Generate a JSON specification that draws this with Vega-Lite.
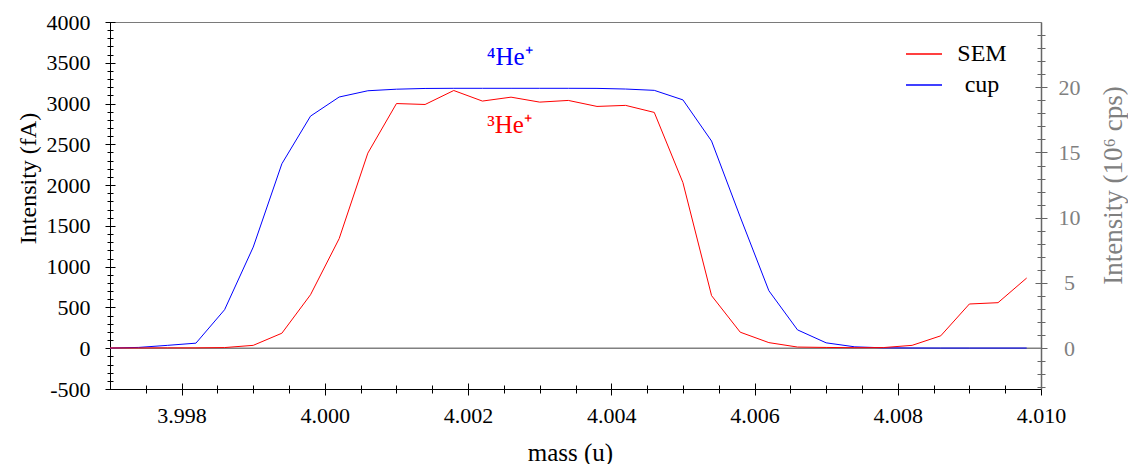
{
  "$schema": "https://vega.github.io/schema/vega-lite/v6.json",
  "width": 931,
  "height": 367,
  "autosize": "none",
  "padding": {"left": 110, "top": 22, "right": 87, "bottom": 75},
  "background": "white",
  "config": {
    "view": {"stroke": "#7a7a7a", "strokeWidth": 1},
    "font": "Liberation Serif",
    "axis": {
      "grid": false,
      "labelFont": "Liberation Serif",
      "titleFont": "Liberation Serif",
      "labelFontSize": 22,
      "titleFontSize": 24,
      "titleFontWeight": "normal",
      "labelColor": "black",
      "titleColor": "black",
      "tickColor": "black",
      "domainColor": "black",
      "labelOverlap": false,
      "labelFlush": false
    }
  },
  "datasets": {
    "scan": [
      {"mass": 3.9970, "series": "cup", "intensity": 2},
      {"mass": 3.9974, "series": "cup", "intensity": 10},
      {"mass": 3.9978, "series": "cup", "intensity": 35},
      {"mass": 3.9982, "series": "cup", "intensity": 62},
      {"mass": 3.9986, "series": "cup", "intensity": 472},
      {"mass": 3.9990, "series": "cup", "intensity": 1240},
      {"mass": 3.9994, "series": "cup", "intensity": 2262},
      {"mass": 3.9998, "series": "cup", "intensity": 2846},
      {"mass": 4.0002, "series": "cup", "intensity": 3080},
      {"mass": 4.0006, "series": "cup", "intensity": 3157},
      {"mass": 4.0010, "series": "cup", "intensity": 3176},
      {"mass": 4.0014, "series": "cup", "intensity": 3185},
      {"mass": 4.0018, "series": "cup", "intensity": 3187},
      {"mass": 4.0022, "series": "cup", "intensity": 3187},
      {"mass": 4.0026, "series": "cup", "intensity": 3187},
      {"mass": 4.0030, "series": "cup", "intensity": 3187},
      {"mass": 4.0034, "series": "cup", "intensity": 3187},
      {"mass": 4.0038, "series": "cup", "intensity": 3186},
      {"mass": 4.0042, "series": "cup", "intensity": 3178},
      {"mass": 4.0046, "series": "cup", "intensity": 3162},
      {"mass": 4.0050, "series": "cup", "intensity": 3045},
      {"mass": 4.0054, "series": "cup", "intensity": 2540},
      {"mass": 4.0058, "series": "cup", "intensity": 1610},
      {"mass": 4.0062, "series": "cup", "intensity": 705},
      {"mass": 4.0066, "series": "cup", "intensity": 225},
      {"mass": 4.0070, "series": "cup", "intensity": 66},
      {"mass": 4.0074, "series": "cup", "intensity": 17},
      {"mass": 4.0078, "series": "cup", "intensity": 5},
      {"mass": 4.0082, "series": "cup", "intensity": 3},
      {"mass": 4.0086, "series": "cup", "intensity": 2},
      {"mass": 4.0090, "series": "cup", "intensity": 2},
      {"mass": 4.0094, "series": "cup", "intensity": 2},
      {"mass": 4.0098, "series": "cup", "intensity": 2},
      {"mass": 3.9970, "series": "SEM", "intensity": 0.02},
      {"mass": 3.9974, "series": "SEM", "intensity": 0.02},
      {"mass": 3.9978, "series": "SEM", "intensity": 0.03},
      {"mass": 3.9982, "series": "SEM", "intensity": 0.03},
      {"mass": 3.9986, "series": "SEM", "intensity": 0.05},
      {"mass": 3.9990, "series": "SEM", "intensity": 0.22},
      {"mass": 3.9994, "series": "SEM", "intensity": 1.15},
      {"mass": 3.9998, "series": "SEM", "intensity": 4.1},
      {"mass": 4.0002, "series": "SEM", "intensity": 8.4},
      {"mass": 4.0006, "series": "SEM", "intensity": 14.95},
      {"mass": 4.0010, "series": "SEM", "intensity": 18.75},
      {"mass": 4.0014, "series": "SEM", "intensity": 18.68},
      {"mass": 4.0018, "series": "SEM", "intensity": 19.75},
      {"mass": 4.0022, "series": "SEM", "intensity": 18.94},
      {"mass": 4.0026, "series": "SEM", "intensity": 19.24},
      {"mass": 4.0030, "series": "SEM", "intensity": 18.86},
      {"mass": 4.0034, "series": "SEM", "intensity": 18.99},
      {"mass": 4.0038, "series": "SEM", "intensity": 18.53},
      {"mass": 4.0042, "series": "SEM", "intensity": 18.61},
      {"mass": 4.0046, "series": "SEM", "intensity": 18.07},
      {"mass": 4.0050, "series": "SEM", "intensity": 12.69},
      {"mass": 4.0054, "series": "SEM", "intensity": 4.03},
      {"mass": 4.0058, "series": "SEM", "intensity": 1.23},
      {"mass": 4.0062, "series": "SEM", "intensity": 0.43},
      {"mass": 4.0066, "series": "SEM", "intensity": 0.09},
      {"mass": 4.0070, "series": "SEM", "intensity": 0.06},
      {"mass": 4.0074, "series": "SEM", "intensity": 0.04},
      {"mass": 4.0078, "series": "SEM", "intensity": 0.05},
      {"mass": 4.0082, "series": "SEM", "intensity": 0.22},
      {"mass": 4.0086, "series": "SEM", "intensity": 0.95},
      {"mass": 4.0090, "series": "SEM", "intensity": 3.39},
      {"mass": 4.0094, "series": "SEM", "intensity": 3.49},
      {"mass": 4.0098, "series": "SEM", "intensity": 5.38}
    ],
    "labels": [
      {"mass": 4.00258, "fA": 3570, "series": "cup", "label": "⁴He⁺"},
      {"mass": 4.00258, "fA": 2735, "series": "SEM", "label": "³He⁺"}
    ],
    "zero": [{"fA": 0}]
  },
  "layer": [
    {
      "data": {"name": "zero"},
      "mark": {"type": "rule", "color": "#808080", "strokeWidth": 1.5},
      "encoding": {
        "y": {
          "field": "fA", "type": "quantitative",
          "scale": {"domain": [-500, 4000], "nice": false, "zero": false},
          "axis": {"orient": "left", "domain": true, "ticks": false, "labels": false,
            "title": "Intensity (fA)", "titleFont": "Liberation Serif", "titleX": -82, "titleY": 156, "titleAngle": 270,
            "titleBaseline": "middle", "titleAlign": "center"}
        }
      }
    },
    {
      "data": {"name": "scan"},
      "transform": [{"filter": "datum.series === 'cup'"}],
      "mark": {"type": "line", "strokeWidth": 1},
      "encoding": {
        "x": {
          "field": "mass", "type": "quantitative",
          "scale": {"domain": [3.997, 4.010], "nice": false, "zero": false},
          "axis": {"orient": "bottom", "domain": true, "ticks": false, "labels": false,
            "title": "mass (u)", "titleFont": "Liberation Serif", "titleX": 460, "titleY": 63, "titleBaseline": "middle",
            "titleAlign": "center", "titleFontSize": 25}
        },
        "y": {
          "field": "intensity", "type": "quantitative",
          "scale": {"domain": [-500, 4000], "nice": false, "zero": false},
          "axis": {"orient": "left", "domain": false, "offset": -5, "tickSize": 10,
            "values": [-500, 0, 500, 1000, 1500, 2000, 2500, 3000, 3500, 4000],
            "labelExpr": "datum.value < 0 ? '-' + abs(datum.value) : '' + datum.value",
            "labelFont": "Liberation Serif", "labelFontSize": 22,
            "labelPadding": 15, "title": null}
        },
        "color": {
          "field": "series", "type": "nominal",
          "scale": {"domain": ["SEM", "cup"], "range": ["#ff0000", "#0000ff"]},
          "legend": {"orient": "none", "legendX": 795, "legendY": 13, "title": null,
            "symbolType": "stroke", "symbolSize": 1296, "symbolStrokeWidth": 1.5,
            "labelFont": "Liberation Serif", "labelFontSize": 24, "labelColor": "black",
            "labelAlign": "center", "labelOffset": 39, "rowPadding": -3, "padding": 0}
        }
      }
    },
    {
      "data": {"name": "scan"},
      "transform": [{"filter": "datum.series === 'SEM'"}],
      "mark": {"type": "line", "strokeWidth": 1},
      "encoding": {
        "x": {
          "field": "mass", "type": "quantitative",
          "scale": {"domain": [3.997, 4.010], "nice": false, "zero": false},
          "axis": {"orient": "bottom", "domain": false, "offset": -6, "tickSize": 12,
            "values": [3.998, 4.000, 4.002, 4.004, 4.006, 4.008, 4.010],
            "format": ".3f", "labelFont": "Liberation Serif", "labelFontSize": 22,
            "labelPadding": 10, "title": null}
        },
        "y": {
          "field": "intensity", "type": "quantitative",
          "scale": {"domain": [-3.125, 25], "nice": false, "zero": false},
          "axis": {"orient": "right", "domain": true, "ticks": false, "labels": false,
            "domainColor": "#666666", "domainWidth": 1.5,
            "title": "Intensity (10⁶ cps)", "titleFont": "Liberation Serif", "titleFontSize": 27,
            "titleColor": "#808080", "titleX": 72, "titleY": 163,
            "titleAngle": 270, "titleBaseline": "middle", "titleAlign": "center"}
        },
        "color": {
          "field": "series", "type": "nominal",
          "scale": {"domain": ["SEM", "cup"], "range": ["#ff0000", "#0000ff"]},
          "legend": {"orient": "none", "legendX": 795, "legendY": 13, "title": null,
            "symbolType": "stroke", "symbolSize": 1296, "symbolStrokeWidth": 1.5,
            "labelFont": "Liberation Serif", "labelFontSize": 24, "labelColor": "black",
            "labelAlign": "center", "labelOffset": 39, "rowPadding": -3, "padding": 0}
        }
      }
    },
    {
      "data": {"name": "labels"},
      "mark": {"type": "text", "font": "Liberation Serif", "fontSize": 25, "align": "center", "baseline": "middle"},
      "encoding": {
        "x": {
          "field": "mass", "type": "quantitative",
          "scale": {"domain": [3.997, 4.010], "nice": false, "zero": false},
          "axis": {"orient": "bottom", "domain": false, "labels": false, "offset": -4, "tickSize": 8,
            "values": [3.9975, 3.9985, 3.999, 3.9995, 4.0005, 4.001, 4.0015, 4.0025, 4.003, 4.0035, 4.0045, 4.005, 4.0055, 4.0065, 4.007, 4.0075, 4.0085, 4.009, 4.0095],
            "title": null}
        },
        "y": {
          "field": "fA", "type": "quantitative",
          "scale": {"domain": [-500, 4000], "nice": false, "zero": false},
          "axis": {"orient": "left", "domain": false, "labels": false, "offset": -3, "tickSize": 6,
            "values": [-400, -300, -200, -100, 100, 200, 300, 400, 600, 700, 800, 900, 1100, 1200, 1300, 1400, 1600, 1700, 1800, 1900, 2100, 2200, 2300, 2400, 2600, 2700, 2800, 2900, 3100, 3200, 3300, 3400, 3600, 3700, 3800, 3900],
            "title": null}
        },
        "text": {"field": "label"},
        "fill": {
          "field": "series", "type": "nominal",
          "scale": {"domain": ["SEM", "cup"], "range": ["#ff0000", "#0000ff"]},
          "legend": null
        }
      }
    },
    {
      "data": {"name": "scan"},
      "transform": [{"filter": "datum.series === 'SEM'"}],
      "mark": {"type": "line", "opacity": 0},
      "encoding": {
        "x": {
          "field": "mass", "type": "quantitative",
          "scale": {"domain": [3.997, 4.010], "nice": false, "zero": false},
          "axis": null
        },
        "y": {
          "field": "intensity", "type": "quantitative",
          "scale": {"domain": [-3.125, 25], "nice": false, "zero": false},
          "axis": {"orient": "right", "domain": false, "offset": -6, "tickSize": 12,
            "values": [0, 5, 10, 15, 20], "labelAlign": "center", "labelPadding": 22,
            "labelFont": "Liberation Serif", "labelFontSize": 22,
            "labelColor": "#808080", "tickColor": "#666666", "title": null}
        }
      }
    },
    {
      "data": {"name": "scan"},
      "transform": [{"filter": "datum.series === 'SEM'"}],
      "mark": {"type": "line", "opacity": 0},
      "encoding": {
        "x": {
          "field": "mass", "type": "quantitative",
          "scale": {"domain": [3.997, 4.010], "nice": false, "zero": false},
          "axis": null
        },
        "y": {
          "field": "intensity", "type": "quantitative",
          "scale": {"domain": [-3.125, 25], "nice": false, "zero": false},
          "axis": {"orient": "right", "domain": false, "labels": false, "offset": -4, "tickSize": 8,
            "values": [-3, -2, -1, 1, 2, 3, 4, 6, 7, 8, 9, 11, 12, 13, 14, 16, 17, 18, 19, 21, 22, 23, 24],
            "tickColor": "#666666", "title": null}
        }
      }
    }
  ],
  "resolve": {
    "scale": {"x": "independent", "y": "independent"},
    "axis": {"x": "independent", "y": "independent"}
  }
}
